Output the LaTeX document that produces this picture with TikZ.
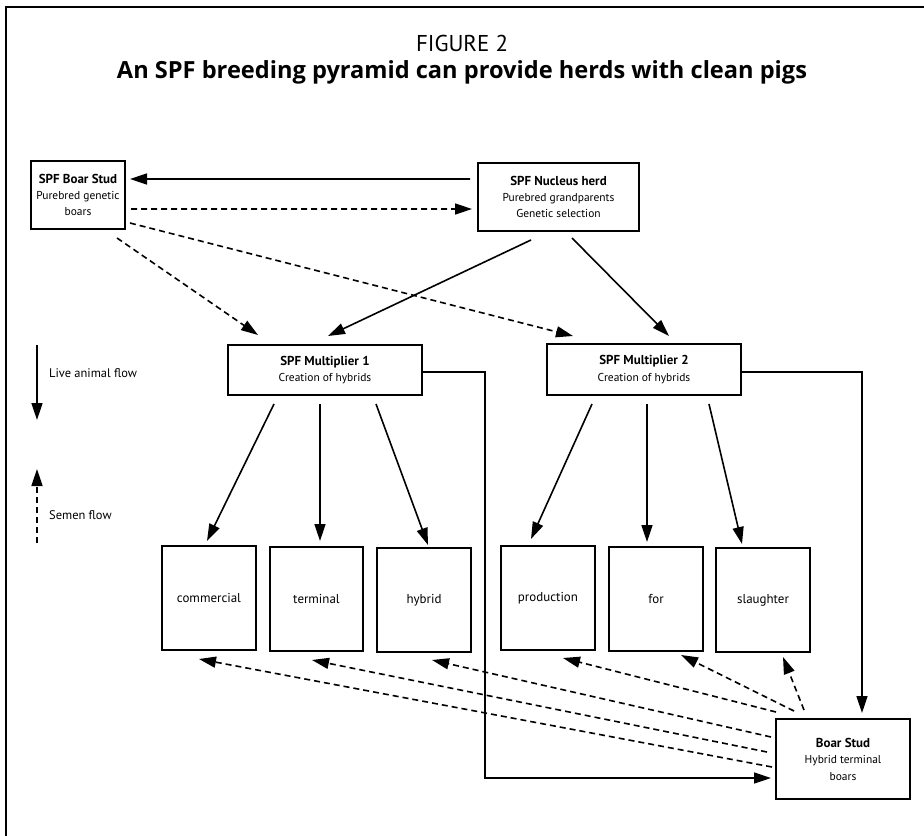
\documentclass[tikz,border=0pt]{standalone}
\usepackage{fontspec}
\setmainfont{PT Sans}
\newfontfamily\titlefont{Open Sans}
\usetikzlibrary{arrows.meta}
\begin{document}
\begin{tikzpicture}[x=1bp,y=-1bp,
  box/.style={draw,line width=2bp,inner sep=0pt,align=center,font=\fontsize{11.5}{16.5}\selectfont},
  leaf/.style={box,minimum width=94bp,minimum height=104bp,font=\fontsize{13}{17}\selectfont},
  live/.style={line width=1.6bp,-{Triangle[length=17bp,width=11bp]}},
  semen/.style={line width=1.6bp,dash pattern=on 6bp off 4bp,-{Triangle[length=17bp,width=11bp]}},
  lbl/.style={anchor=west,inner sep=0pt,font=\fontsize{12.5}{16}\selectfont}
]
\useasboundingbox (0,0) rectangle (924,836);
\fill[white] (0,0) rectangle (924,836);
\draw[line width=2.8bp] (6,836) -- (6,7) -- (924,7);

% title
\node[inner sep=0pt,anchor=base] (fig) at (462,51) {\resizebox{92bp}{!}{\fontsize{17}{20}\selectfont FIGURE 2}};
\node[inner sep=0pt,anchor=base] (title) at (462,78) {\resizebox{690bp}{!}{\fontsize{20}{24}\selectfont\titlefont\bfseries An SPF breeding pyramid can provide herds with clean pigs}};

% boxes
\node[box,minimum width=94bp,minimum height=68bp] (bstud) at (78,195) {{\fontsize{13}{16.5}\selectfont\bfseries SPF Boar Stud}\\Purebred genetic\\boars};
\node[box,minimum width=161bp,minimum height=68bp] (nucleus) at (558.5,197) {{\fontsize{13}{16.5}\selectfont\bfseries SPF Nucleus herd}\\Purebred grandparents\\Genetic selection};
\node[box,minimum width=194bp,minimum height=50bp] (mult1) at (325,370) {{\fontsize{13}{16.5}\selectfont\bfseries SPF Multiplier 1}\\Creation of hybrids};
\node[box,minimum width=194bp,minimum height=51bp] (mult2) at (644,369.5) {{\fontsize{13}{16.5}\selectfont\bfseries SPF Multiplier 2}\\Creation of hybrids};
\node[box,minimum width=134bp,minimum height=80bp] (boarstud) at (843,759) {{\fontsize{13}{16.5}\selectfont\bfseries Boar Stud}\\Hybrid terminal\\boars};

\node[leaf] (commercial) at (209,598) {commercial};
\node[leaf,minimum width=93bp] (terminal) at (316.5,599) {terminal};
\node[leaf] (hybrid) at (424,600) {hybrid};
\node[leaf] (production) at (548,598) {production};
\node[leaf] (for) at (656,599) {for};
\node[leaf] (slaughter) at (763,600) {slaughter};

% top connectors
\draw[live] ([xshift=-7bp,yshift=18bp]nucleus.west) -- ([xshift=4bp,yshift=16bp]bstud.east);
\draw[semen] ([xshift=5bp,yshift=-14bp]bstud.east) -- ([xshift=-5bp,yshift=-12bp]nucleus.west);
\draw[semen] ([xshift=4bp,yshift=-28bp]bstud.east) -- ([xshift=-71bp,yshift=7bp]mult2.north);
\draw[semen] ([xshift=39bp,yshift=-8bp]bstud.south) -- ([xshift=-67bp,yshift=9bp]mult1.north);
\draw[live] ([xshift=-27.5bp,yshift=-8bp]nucleus.south) -- ([xshift=3bp,yshift=8bp]mult1.north);
\draw[live] ([xshift=13.5bp,yshift=-6bp]nucleus.south) -- ([xshift=25bp,yshift=7bp]mult2.north);

% multiplier 1 down
\draw[live] ([xshift=-51bp,yshift=-8bp]mult1.south) -- ([xshift=-2bp,yshift=4bp]commercial.north);
\draw[live] ([xshift=-5bp,yshift=-8bp]mult1.south) -- ([xshift=3.5bp,yshift=5bp]terminal.north);
\draw[live] ([xshift=51bp,yshift=-8bp]mult1.south) -- ([xshift=4bp,yshift=2bp]hybrid.north);
% multiplier 2 down
\draw[live] ([xshift=-52bp,yshift=-8bp]mult2.south) -- ([xshift=-17bp,yshift=6bp]production.north);
\draw[live] ([xshift=3bp,yshift=-8bp]mult2.south) -- ([xshift=-9bp,yshift=4bp]for.north);
\draw[live] ([xshift=65bp,yshift=-8bp]mult2.south) -- ([xshift=-21bp,yshift=3bp]slaughter.north);

% to boar stud
\draw[live] ([yshift=-2bp]mult1.east) -- ++(62,0) |- ([xshift=-4bp,yshift=-19bp]boarstud.west);
\draw[live] ([yshift=-2.5bp]mult2.east) -| ([xshift=19bp,yshift=5bp]boarstud.north);

% semen from boar stud
\draw[semen] ([xshift=29bp,yshift=8bp]boarstud.north west) -- ([xshift=20bp,yshift=-4bp]slaughter.south);
\draw[semen] ([xshift=19bp,yshift=7bp]boarstud.north west) -- ([xshift=25bp,yshift=-3bp]for.south);
\draw[semen] ([xshift=1bp,yshift=6bp]boarstud.north west) -- ([xshift=15bp,yshift=-7bp]production.south);
\draw[semen] ([xshift=-4bp,yshift=22bp]boarstud.west) -- ([xshift=8bp,yshift=-7bp]hybrid.south);
\draw[semen] ([xshift=-8bp,yshift=7bp]boarstud.west) -- ([xshift=-4.5bp,yshift=-8bp]terminal.south);
\draw[semen] ([xshift=-3bp,yshift=-8bp]boarstud.west) -- ([xshift=-10bp,yshift=-8bp]commercial.south);

% legend
\coordinate (lg1) at (37,345);
\coordinate (lg2) at (37,420);
\coordinate (lg3) at (37,543);
\coordinate (lg4) at (37,469);
\draw[live] (lg1) -- (lg2);
\draw[semen] (lg3) -- (lg4);
\node[lbl] (lglive) at (49,373) {Live animal flow};
\node[lbl] (lgsemen) at (49,515) {Semen flow};
\end{tikzpicture}
\end{document}
